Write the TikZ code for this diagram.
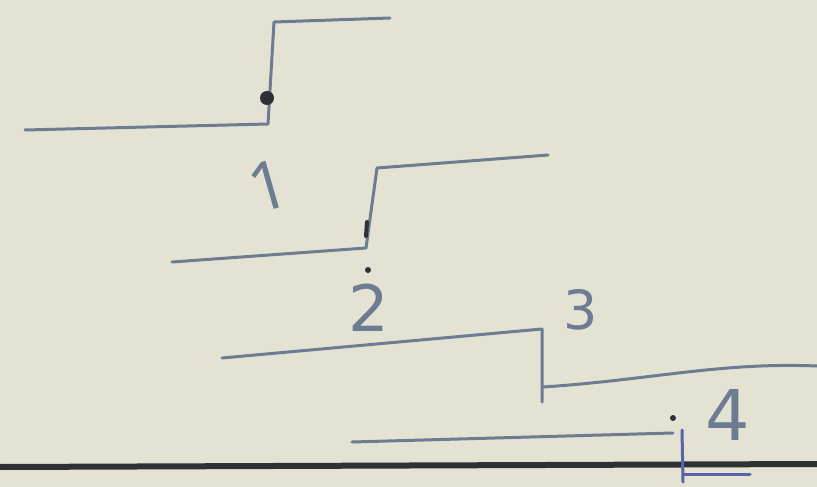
\documentclass[tikz,border=0pt]{standalone}
\usepackage{fontspec}
\setmainfont{DejaVu Sans}
\newfontfamily\onefont{Open Sans}
\definecolor{paper}{HTML}{E4E2D3}
\definecolor{ink}{HTML}{6E7C92}
\definecolor{dark}{HTML}{2E3036}
\begin{document}
\begin{tikzpicture}[x=1pt,y=-1pt,
  stepline/.style={draw=ink,line width=3pt,line cap=round,line join=round},
  blob/.style={circle,fill=dark,inner sep=0pt,minimum size=#1},
  lbl/.style={text=ink,inner sep=0pt}]
\fill[paper] (0,0) rectangle (817,487);
\useasboundingbox (0,0) rectangle (817,487);
% step 1
\coordinate (a1) at (25,130);
\coordinate (b1) at (268,124);
\coordinate (c1) at (274,22);
\coordinate (d1) at (390,18);
\draw[stepline] (a1) -- (b1) -- (c1) -- (d1);
\node[blob=14pt] (p1) at (267,98) {};
\node[lbl,font=\onefont\fontsize{68}{68}\selectfont,rotate=16] (l1) at (268,186) {1};
% step 2
\coordinate (a2) at (172,262);
\coordinate (b2) at (366,248);
\coordinate (c2) at (377,168);
\coordinate (d2) at (548,155);
\draw[stepline] (a2) -- (b2) -- (c2) -- (d2);
\draw[draw=dark,line width=4pt,line cap=round] (367,222) -- (366,236);
\node[blob=6pt] (p2) at (368,270) {};
\node[lbl,font=\fontsize{64}{64}\selectfont] (l2) at (369,308) {2};
% step 3
\coordinate (a3) at (222,358);
\coordinate (b3) at (542,329);
\coordinate (c3) at (542,402);
\coordinate (f3) at (543,387);
\coordinate (d3) at (817,366);
\draw[stepline] (a3) -- (b3) -- (c3);
\draw[stepline] (f3) .. controls (650,380) and (720,362) .. (d3);
\node[lbl,font=\fontsize{54}{54}\selectfont] (l3) at (581,310) {3};
% step 4
\coordinate (a4) at (352,442);
\coordinate (b4) at (673,433);
\draw[stepline] (a4) -- (b4);
\node[blob=6pt] (p4) at (673,418) {};
\node[lbl,font=\fontsize{70}{70}\selectfont] (l4) at (728,415) {4};
% baseline
\coordinate (g0) at (0,467);
\coordinate (g1) at (817,464);
\draw[draw=dark,line width=6pt] (g0) -- (g1);
\coordinate (v4a) at (682,430);
\coordinate (v4b) at (683,482);
\coordinate (v4c) at (683,474);
\coordinate (h4) at (750,474);
\draw[stepline,draw=ink!80!blue] (v4a) -- (v4b);
\draw[stepline,draw=ink!80!blue] (v4c) -- (h4);
\end{tikzpicture}
\end{document}
